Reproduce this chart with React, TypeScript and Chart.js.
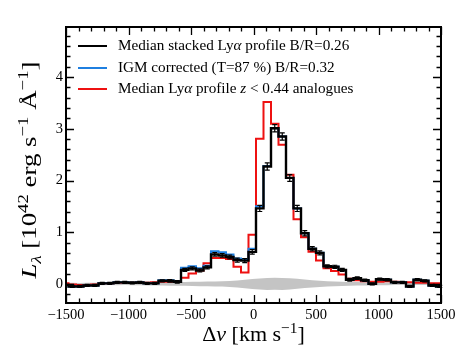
import React, { useEffect, useRef } from "react";
import { Chart, registerables } from "chart.js";

Chart.register(...registerables);

// ---------- data ----------
const binCenters = [
  -1510, -1450, -1390, -1330, -1270, -1210, -1150, -1090, -1030, -970,
  -910, -850, -790, -730, -670, -610, -550, -490, -430, -370,
  -310, -250, -190, -130, -70, -10, 50, 110, 170, 230,
  290, 350, 410, 470, 530, 590, 650, 710, 770, 830,
  890, 950, 1010, 1070, 1130, 1190, 1250, 1310, 1370, 1430,
  1490, 1550,
];

const stackedMedian = [
  -0.02, -0.05, -0.05, -0.03, -0.03, 0.01, 0.01, 0.03, 0.03, 0.02,
  0.03, 0.01, 0.01, 0.06, 0.06, 0.04, 0.27, 0.30, 0.26, 0.32,
  0.57, 0.55, 0.52, 0.46, 0.45, 0.62, 1.46, 2.27, 3.01, 2.85,
  2.05, 1.46, 0.98, 0.68, 0.60, 0.34, 0.33, 0.27, 0.08, 0.11,
  0.07, 0.00, 0.09, 0.08, 0.03, 0.03, -0.05, 0.08, 0.06, -0.03,
  -0.05, -0.05,
];

const stackedErr = [
  0.02, 0.02, 0.02, 0.02, 0.02, 0.02, 0.02, 0.02, 0.02, 0.02,
  0.02, 0.02, 0.02, 0.02, 0.025, 0.025, 0.03, 0.03, 0.03, 0.03,
  0.035, 0.035, 0.035, 0.04, 0.04, 0.045, 0.06, 0.07, 0.07, 0.07,
  0.065, 0.06, 0.05, 0.04, 0.04, 0.03, 0.03, 0.03, 0.025, 0.025,
  0.02, 0.02, 0.02, 0.02, 0.02, 0.02, 0.02, 0.02, 0.02, 0.02,
  0.02, 0.02,
];

const igmCorrected = [
  -0.02, -0.05, -0.05, -0.03, -0.03, 0.01, 0.01, 0.03, 0.03, 0.02,
  0.03, 0.01, 0.01, 0.07, 0.07, 0.05, 0.31, 0.34, 0.30, 0.35,
  0.63, 0.61, 0.57, 0.49, 0.48, 0.68, 1.50, 2.28, 3.01, 2.85,
  2.05, 1.46, 0.98, 0.68, 0.60, 0.34, 0.33, 0.27, 0.08, 0.11,
  0.07, 0.00, 0.09, 0.08, 0.03, 0.03, -0.05, 0.08, 0.06, -0.03,
  -0.05, -0.05,
];

const analogues = [
  0.01, -0.01, -0.02, -0.02, -0.01, 0.01, 0.01, 0.02, 0.02, 0.02,
  0.03, 0.02, 0.03, 0.04, 0.04, 0.05, 0.12, 0.20, 0.26, 0.40,
  0.50, 0.50, 0.48, 0.33, 0.22, 0.95, 2.81, 3.52, 3.10, 2.69,
  2.11, 1.25, 0.90, 0.62, 0.45, 0.30, 0.25, 0.18, 0.10, 0.07,
  0.05, 0.04, 0.04, 0.05, 0.04, 0.03, 0.03, 0.02, 0.02, 0.01,
  0.01, 0.01,
];

const noiseUpper = [
  0.02, 0.02, 0.015, 0.02, 0.02, 0.02, 0.025, 0.02, 0.025, 0.025,
  0.03, 0.025, 0.03, 0.03, 0.03, 0.035, 0.035, 0.04, 0.04, 0.045,
  0.045, 0.05, 0.055, 0.065, 0.08, 0.095, 0.105, 0.115, 0.12, 0.115,
  0.11, 0.1, 0.085, 0.07, 0.06, 0.05, 0.045, 0.04, 0.035, 0.035,
  0.03, 0.03, 0.025, 0.025, 0.025, 0.02, 0.02, 0.02, 0.02, 0.02,
  0.015, 0.015,
];

const noiseLower = [
  -0.02, -0.015, -0.02, -0.02, -0.02, -0.025, -0.02, -0.025, -0.02, -0.025,
  -0.025, -0.03, -0.03, -0.03, -0.035, -0.035, -0.035, -0.04, -0.045, -0.045,
  -0.05, -0.05, -0.06, -0.07, -0.085, -0.1, -0.11, -0.12, -0.115, -0.12,
  -0.11, -0.095, -0.08, -0.07, -0.06, -0.05, -0.045, -0.04, -0.035, -0.03,
  -0.03, -0.03, -0.025, -0.025, -0.02, -0.02, -0.02, -0.02, -0.02, -0.015,
  -0.015, -0.015,
];

const xTickValues = [-1500, -1000, -500, 0, 500, 1000, 1500];
const yTickValues = [0, 1, 2, 3, 4];

const legendLabels = [
  "Median stacked Lyα profile B/R=0.26",
  "IGM corrected (T=87 %) B/R=0.32",
  "Median Lyα profile z < 0.44 analogues",
];

// ---------- styles ----------
const SERIF = "'Liberation Serif', 'DejaVu Serif', serif";
const BLACK = "#000000";
const BLUE = "#1f7fe0";
const RED = "#ee1111";
const GRAY = "#c4c4c4";

type Run = { t: string; italic?: boolean; scale?: number; dy?: number };

function setFont(ctx: CanvasRenderingContext2D, r: Run, size: number) {
  const s = size * (r.scale ?? 1);
  ctx.font = `${r.italic ? "italic " : ""}${s}px ${SERIF}`;
}

function runsWidth(ctx: CanvasRenderingContext2D, runs: Run[], size: number) {
  let w = 0;
  for (const r of runs) {
    setFont(ctx, r, size);
    w += ctx.measureText(r.t).width;
  }
  return w;
}

function drawRuns(ctx: CanvasRenderingContext2D, runs: Run[], x: number, y: number, size: number) {
  let cx = x;
  for (const r of runs) {
    setFont(ctx, r, size);
    ctx.fillText(r.t, cx, y + (r.dy ?? 0) * size);
    cx += ctx.measureText(r.t).width;
  }
}

// split a label into runs, italicising α and z
function labelRuns(label: string): Run[] {
  const runs: Run[] = [];
  let buf = "";
  for (const ch of label) {
    if (ch === "α" || ch === "z") {
      if (buf) runs.push({ t: buf });
      buf = "";
      runs.push({ t: ch, italic: true });
    } else buf += ch;
  }
  if (buf) runs.push({ t: buf });
  return runs;
}

const decorPlugin = {
  id: "decor",
  afterDatasetsDraw(chart: any) {
    const { ctx, scales } = chart;
    const xs = scales.x;
    const ys = scales.y;
    ctx.save();
    ctx.strokeStyle = BLACK;
    ctx.lineWidth = 1.2;
    for (let i = 0; i < binCenters.length; i++) {
      const v = binCenters[i];
      if (v < -1500 || v > 1500) continue;
      const px = xs.getPixelForValue(v);
      const y1 = ys.getPixelForValue(stackedMedian[i] + stackedErr[i]);
      const y2 = ys.getPixelForValue(stackedMedian[i] - stackedErr[i]);
      ctx.beginPath();
      ctx.moveTo(px, y1);
      ctx.lineTo(px, y2);
      ctx.moveTo(px - 2.5, y1);
      ctx.lineTo(px + 2.5, y1);
      ctx.moveTo(px - 2.5, y2);
      ctx.lineTo(px + 2.5, y2);
      ctx.stroke();
    }
    ctx.restore();
  },
  afterDraw(chart: any) {
    const { ctx, chartArea: a, scales } = chart;
    const xs = scales.x;
    const ys = scales.y;
    ctx.save();
    ctx.strokeStyle = BLACK;
    // ticks
    ctx.lineWidth = 1.3;
    ctx.beginPath();
    for (let v = -1500; v <= 1500; v += 100) {
      const major = xTickValues.includes(v);
      const len = major ? 8 : 4.5;
      const px = Math.round(xs.getPixelForValue(v)) + 0.5;
      ctx.moveTo(px, a.bottom);
      ctx.lineTo(px, a.bottom - len);
      ctx.moveTo(px, a.top);
      ctx.lineTo(px, a.top + len);
    }
    for (let k = -1; k <= 24; k++) {
      const v = k * 0.2;
      if (v < ys.min || v > ys.max) continue;
      const major = k % 5 === 0;
      const len = major ? 8 : 4.5;
      const py = Math.round(ys.getPixelForValue(v)) + 0.5;
      ctx.moveTo(a.left, py);
      ctx.lineTo(a.left + len, py);
      ctx.moveTo(a.right, py);
      ctx.lineTo(a.right - len, py);
    }
    ctx.stroke();
    // frame
    ctx.lineWidth = 2;
    ctx.strokeRect(a.left, a.top, a.right - a.left, a.bottom - a.top);

    // legend
    const colors = [BLACK, BLUE, RED];
    const rowsY = [46, 68, 89];
    ctx.textBaseline = "middle";
    ctx.fillStyle = BLACK;
    for (let i = 0; i < legendLabels.length; i++) {
      ctx.strokeStyle = colors[i];
      ctx.lineWidth = 2;
      ctx.beginPath();
      ctx.moveTo(78, rowsY[i]);
      ctx.lineTo(107, rowsY[i]);
      ctx.stroke();
      drawRuns(ctx, labelRuns(legendLabels[i]), 118, rowsY[i] + 0.5, 15.2);
    }

    // x title
    const xRuns: Run[] = [
      { t: "Δ" },
      { t: "v", italic: true },
      { t: " [km s" },
      { t: "−1", scale: 0.7, dy: -0.36 },
      { t: "]" },
    ];
    const xSize = 22;
    ctx.textBaseline = "alphabetic";
    const xw = runsWidth(ctx, xRuns, xSize);
    drawRuns(ctx, xRuns, (a.left + a.right) / 2 - xw / 2, 341, xSize);

    // y title
    const yRuns: Run[] = [
      { t: "L", italic: true },
      { t: "λ", italic: true, scale: 0.7, dy: 0.22 },
      { t: " [10" },
      { t: "42", scale: 0.7, dy: -0.36 },
      { t: " erg s" },
      { t: "−1", scale: 0.7, dy: -0.36 },
      { t: " Å" },
      { t: "−1", scale: 0.7, dy: -0.36 },
      { t: "]" },
    ];
    const ySize = 22;
    const yw = runsWidth(ctx, yRuns, ySize);
    const stretch = 1.22;
    ctx.translate(36, 170);
    ctx.rotate(-Math.PI / 2);
    ctx.scale(stretch, 1);
    drawRuns(ctx, yRuns, -yw / 2, 0, ySize);
    ctx.restore();
  },
};

function pts(arr: number[]) {
  return binCenters.map((c, i) => ({ x: c, y: arr[i] }));
}

export default function App() {
  const ref = useRef<HTMLCanvasElement | null>(null);
  useEffect(() => {
    if (!ref.current) return;
    const chart = new Chart(ref.current, {
      type: "line",
      data: {
        datasets: [
          {
            label: legendLabels[0],
            data: pts(stackedMedian),
            borderColor: BLACK,
            borderWidth: 2.4,
            stepped: "middle",
            pointRadius: 0,
            fill: false,
            order: 0,
            clip: 0,
          } as any,
          {
            label: legendLabels[1],
            data: pts(igmCorrected),
            borderColor: BLUE,
            borderWidth: 2,
            stepped: "middle",
            pointRadius: 0,
            fill: false,
            order: 1,
            clip: 0,
          },
          {
            label: legendLabels[2],
            data: pts(analogues),
            borderColor: RED,
            borderWidth: 2,
            stepped: "middle",
            pointRadius: 0,
            fill: false,
            order: 2,
            clip: 0,
          },
          {
            label: "noise upper",
            data: pts(noiseUpper),
            borderWidth: 0,
            borderColor: GRAY,
            backgroundColor: GRAY,
            pointRadius: 0,
            fill: "+1",
            order: 3,
            clip: 0,
          },
          {
            label: "noise lower",
            data: pts(noiseLower),
            borderWidth: 0,
            borderColor: GRAY,
            backgroundColor: GRAY,
            pointRadius: 0,
            fill: false,
            order: 4,
            clip: 0,
          },
        ],
      },
      options: {
        animation: false,
        responsive: false,
        devicePixelRatio: 1,
        layout: { padding: { left: 0, right: 28, top: 27, bottom: 0 } },
        plugins: {
          legend: { display: false },
          tooltip: { enabled: false },
        },
        scales: {
          x: {
            type: "linear",
            min: -1500,
            max: 1500,
            grid: { display: false, drawTicks: false },
            border: { display: false },
            ticks: {
              font: { family: SERIF, size: 14.5 },
              color: BLACK,
              padding: 3,
              maxRotation: 0,
              callback: (v: any) => (v < 0 ? "−" + Math.abs(v) : String(v)),
            },
            afterBuildTicks: (s: any) => {
              s.ticks = xTickValues.map((v) => ({ value: v }));
            },
            afterFit: (s: any) => {
              s.height = 52;
            },
          },
          y: {
            type: "linear",
            min: -0.37,
            max: 4.97,
            grid: { display: false, drawTicks: false },
            border: { display: false },
            ticks: {
              font: { family: SERIF, size: 14.5 },
              color: BLACK,
              padding: 3,
              callback: (v: any) => String(v),
            },
            afterBuildTicks: (s: any) => {
              s.ticks = yTickValues.map((v) => ({ value: v }));
            },
            afterFit: (s: any) => {
              s.width = 66;
            },
          },
        },
      },
      plugins: [decorPlugin],
    });
    return () => chart.destroy();
  }, []);
  return (
    <div style={{ position: "fixed", left: 0, top: 0, width: 469, height: 355, background: "#fff" }}>
      <canvas ref={ref} width={469} height={355} style={{ display: "block" }} />
    </div>
  );
}
